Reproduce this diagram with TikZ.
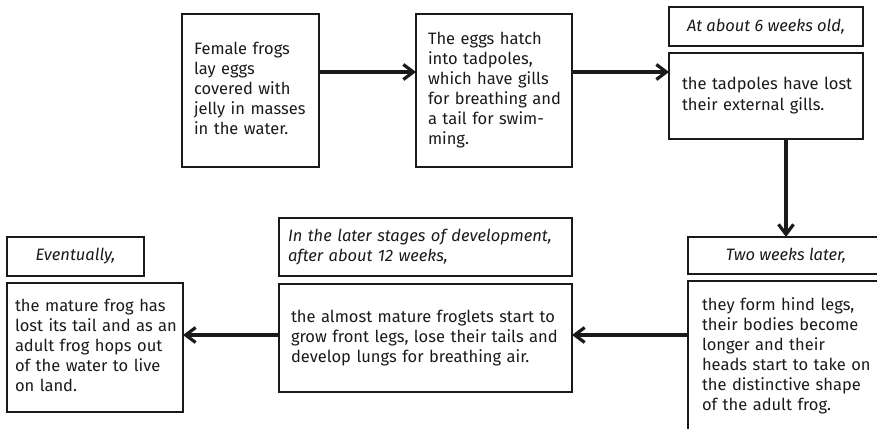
\documentclass[tikz,border=0pt]{standalone}
\usepackage{fontspec}
\setmainfont{Fira Sans}
\usetikzlibrary{arrows.meta}
\definecolor{ink}{HTML}{1A1A1A}
\newcommand\txtlines[1]{\begin{tabular}{@{}l@{}}#1\end{tabular}}
\begin{document}
\begin{tikzpicture}[x=1pt,y=-1pt,
  box/.style={draw=ink, line width=1.4pt, rectangle, inner ysep=0pt, outer sep=0pt,
    align=left, anchor=north west, font=\fontsize{16.5}{20}\selectfont, text=ink},
  lbl/.style={box, align=center, font=\fontsize{16.5}{20}\selectfont\itshape},
  arr/.style={draw=ink, line width=3.2pt, line join=miter,
    -{Straight Barb[length=10pt,width=15pt]}}]
\clip (0,0) rectangle (877,428);
\useasboundingbox (0,0) rectangle (877,428);
% top row
\node[box, minimum width=137pt, minimum height=153pt, text width=113pt, inner xsep=12pt] (b1) at (182,14)
  {\txtlines{Female frogs\\lay eggs\\covered with\\jelly in masses\\in the water.}};
\node[box, minimum width=156pt, minimum height=153pt, text width=132pt, inner xsep=12pt] (b2) at (416,14)
  {\txtlines{The eggs hatch\\into tadpoles,\\which have gills\\for breathing and\\a tail for swim-\\ming.}};
\node[lbl, minimum width=194pt, minimum height=39pt, inner xsep=8pt] (l3) at (669,7)
  {At about 6 weeks old,};
\node[box, minimum width=194pt, minimum height=86pt, text width=168pt, inner xsep=13pt] (b3) at (669,53)
  {\txtlines{the tadpoles have lost\\their external gills.}};
% bottom row
\node[lbl, minimum width=196pt, minimum height=37pt, inner xsep=8pt] (l4) at (688,237)
  {Two weeks later,};
\node[box, minimum width=196pt, minimum height=150pt, text width=168pt, inner xsep=14pt] (b4) at (688,281)
  {\txtlines{they form hind legs,\\their bodies become\\longer and their\\heads start to take on\\the distinctive shape\\of the adult frog.}};
\node[box, minimum width=293pt, minimum height=58pt, text width=275pt, inner xsep=9pt,
  font=\fontsize{16.5}{20}\selectfont\itshape] (l5) at (279,218)
  {\txtlines{In the later stages of development,\\after about 12 weeks,}};
\node[box, minimum width=293pt, minimum height=108pt, text width=269pt, inner xsep=12pt] (b5) at (279,284)
  {\txtlines{the almost mature froglets start to\\grow front legs, lose their tails and\\develop lungs for breathing air.}};
\node[lbl, minimum width=137pt, minimum height=39pt, inner xsep=8pt] (l6) at (7,237)
  {Eventually,};
\node[box, minimum width=176pt, minimum height=129pt, text width=160pt, inner xsep=8pt] (b6) at (7,283)
  {\txtlines{the mature frog has\\lost its tail and as an\\adult frog hops out\\of the water to live\\on land.}};
% connectors
\coordinate (ytop) at (0,72);
\coordinate (ybot) at (0,335);
\draw[arr] (b1.east |- ytop) -- (b2.west |- ytop);
\draw[arr] (b2.east |- ytop) -- (b3.west |- ytop);
\draw[arr] (b3.south -| l4.north) -- (l4.north);
\draw[arr] (b4.west |- ybot) -- (b5.east |- ybot);
\draw[arr] (b5.west |- ybot) -- (b6.east |- ybot);
\end{tikzpicture}
\end{document}
